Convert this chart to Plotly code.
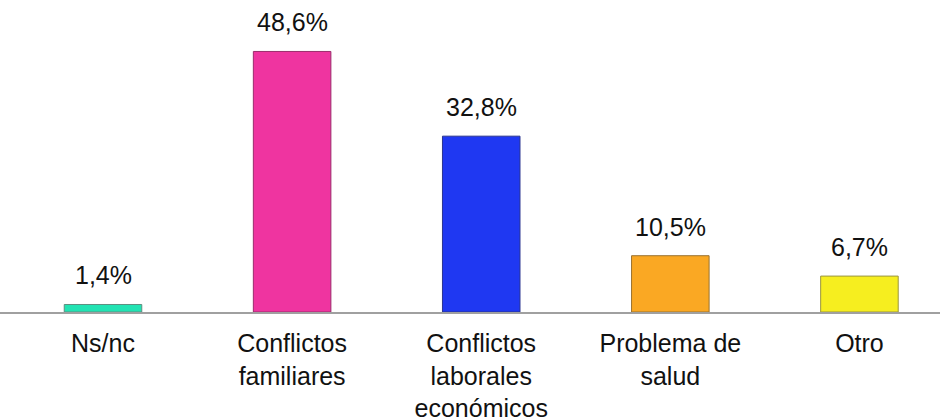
import plotly.graph_objects as go

# Data
categories = ["Ns/nc", "Conflictos<br>familiares", "Conflictos<br>laborales<br>económicos",
              "Problema de<br>salud", "Otro"]
values = [1.4, 48.6, 32.8, 10.5, 6.7]
colors = ["#22E3B3", "#EF34A0", "#1F38F2", "#FAA823", "#F6EE1F"]
edge_colors = ["#5E8F80", "#9A2C6C", "#2A3590", "#9A7230", "#9A9540"]

labels = [f"{v:.1f}".replace(".", ",") + "%" for v in values]

FONT = "Liberation Sans, Arial, sans-serif"

fig = go.Figure()
fig.add_trace(go.Bar(
    x=categories,
    y=values,
    width=0.41,
    marker=dict(color=colors, line=dict(color=edge_colors, width=1)),
    hoverinfo="skip",
))

# Value labels above each bar
for cat, v, lab in zip(categories, values, labels):
    fig.add_annotation(
        x=cat, y=v, text=lab, showarrow=False,
        yanchor="bottom", yshift=13,
        font=dict(family=FONT, size=25, color="#111111"),
    )

fig.update_layout(
    width=940, height=418,
    margin=dict(l=0, r=0, t=0, b=106, autoexpand=False),
    paper_bgcolor="white", plot_bgcolor="white",
    showlegend=False,
    font=dict(family=FONT, size=25, color="#111111"),
)
fig.update_xaxes(
    range=[-0.5447, 4.426], automargin=False,
    showline=True, linecolor="#A0A0A0", linewidth=2,
    showgrid=False, ticks="", ticklabelstandoff=8,
    tickfont=dict(size=25, color="#111111"),
)
fig.update_yaxes(
    range=[0, 58.2], visible=False, showgrid=False, zeroline=False,
)

fig.write_html("out.html")
